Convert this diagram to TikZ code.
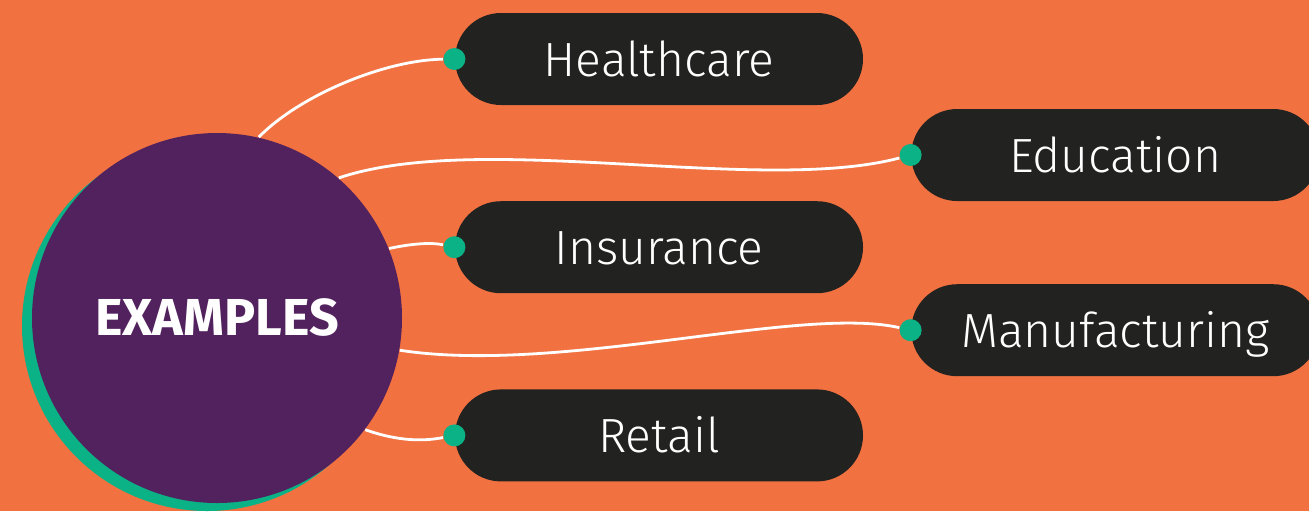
\documentclass[tikz,border=0pt]{standalone}
\usepackage{fontspec}
\setmainfont{Fira Sans}
\newfontfamily\lightfont{Fira Sans Light}
\usetikzlibrary{positioning}
\definecolor{bgorange}{HTML}{F27141}
\definecolor{hubpurple}{HTML}{52225E}
\definecolor{dotgreen}{HTML}{0AB285}
\definecolor{pilldark}{HTML}{222220}

\begin{document}
\begin{tikzpicture}[x=0.5pt, y=-0.5pt, node distance=47.5pt, semithick]
  \tikzstyle{pill}=[fill=pilldark, rounded corners=23pt, minimum width=204pt, minimum height=46pt, inner sep=0pt, text=white, text height=17pt, text depth=0pt, font=\lightfont\fontsize{24}{28}\selectfont]
  \tikzstyle{dot}=[circle, fill=dotgreen, minimum size=11pt, inner sep=0pt]
  \tikzstyle{link}=[draw=white, line width=1.4pt]
  \path[use as bounding box, fill=bgorange] (0,0) rectangle (1309,511);

  \node[pill]          (hc)                              at (659,59) {Healthcare};
  \node[pill]          (ins) [below=of hc]                           {Insurance};
  \node[pill]          (ret) [below=of ins]                          {Retail};
  \node[pill]          (edu) [below right=48pt and 23.5pt of hc.east, anchor=west] {Education};
  \node[pill]          (man) [below=41pt of edu]                     {Manufacturing};

  \node[dot] (hcdot)  at (hc.west)  {};
  \node[dot] (insdot) at (ins.west) {};
  \node[dot] (retdot) at (ret.west) {};
  \node[dot] (edudot) at (edu.west) {};
  \node[dot] (mandot) at (man.west) {};

  % hub and its shadow
  \node[circle, fill=dotgreen, minimum size=185pt, inner sep=0pt] (shadow) at (207,326) {};
  \node[circle, fill=hubpurple, minimum size=185pt, inner sep=0pt, text=white, text height=17.5pt, text depth=0pt,
        font=\bfseries\fontsize{26}{30}\selectfont] (hub) at (217,318) {EXAMPLES};

  \draw[link] (hub.77)  .. controls (300,95)  and (385,60)  .. (hcdot);
  \draw[link] (hub.49)  .. controls (480,130) and (760,195) .. (edudot);
  \draw[link] (hub.22)  .. controls (410,244) and (430,242) .. (insdot);
  \draw[link] (hub.-10) .. controls (560,375) and (800,305) .. (mandot);
  \draw[link] (hub.-37) .. controls (400,442) and (425,441) .. (retdot);
\end{tikzpicture}
\end{document}
